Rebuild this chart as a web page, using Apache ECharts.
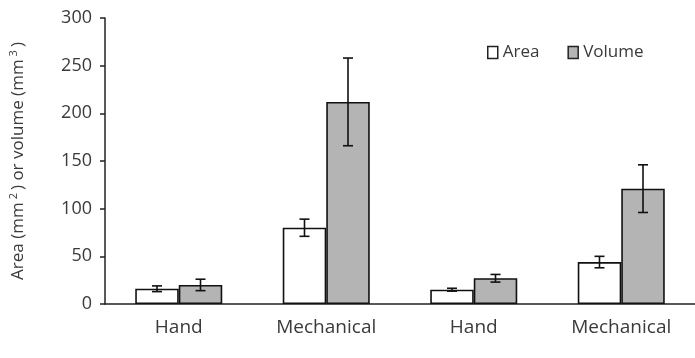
<!DOCTYPE html>
<html><head><meta charset="utf-8">
<script src="https://cdn.jsdelivr.net/npm/echarts@6/dist/echarts.min.js"></script>
<style>html,body{margin:0;padding:0;background:#fff}#c{width:695px;height:358px}</style>
</head><body><div id="c"></div>
<script>
const categories = ['Hand', 'Mechanical', 'Hand', 'Mechanical'];
const areaValues = [16, 80, 15, 44];
const areaErrors = [3, 9, 1.5, 6];
const volumeValues = [20, 212, 27, 121];
const volumeErrors = [6, 46, 4, 25];
const yTicks = [0, 50, 100, 150, 200, 250, 300];

const FONT = '"Open Sans", "Liberation Sans", sans-serif';
const GAP = 0.41;
const TXT = '#3a3a3a';

function errData(vals, errs) {
  return vals.map((v, i) => [i, v - errs[i], v + errs[i]]);
}
function errRender(sign) {
  return function (params, api) {
    const i = api.value(0);
    const lo = api.coord([i, api.value(1)]);
    const hi = api.coord([i, api.value(2)]);
    const band = api.size([1, 0])[0];
    const bw = band * (1 - GAP) / 2;
    const x = lo[0] + sign * bw / 2;
    const cap = 5;
    const st = { stroke: '#111', lineWidth: 1.6 };
    return {
      type: 'group',
      children: [
        { type: 'line', shape: { x1: x, y1: lo[1], x2: x, y2: hi[1] }, style: st },
        { type: 'line', shape: { x1: x - cap, y1: lo[1], x2: x + cap, y2: lo[1] }, style: st },
        { type: 'line', shape: { x1: x - cap, y1: hi[1], x2: x + cap, y2: hi[1] }, style: st }
      ]
    };
  };
}

const chart = echarts.init(document.getElementById('c'));
chart.setOption({
  animation: false,
  backgroundColor: '#fff',
  textStyle: { fontFamily: FONT },
  legend: {
    left: 482, top: 39,
    itemWidth: 10, itemHeight: 12, itemGap: 28,
    textStyle: { fontSize: 17, color: TXT, fontFamily: FONT },
    data: [
      { name: 'Area', icon: 'rect', itemStyle: { color: '#fff', borderColor: '#222', borderWidth: 1.5 } },
      { name: 'Volume', icon: 'rect', itemStyle: { color: '#b4b4b4', borderColor: '#222', borderWidth: 1.5 } }
    ]
  },
  grid: { left: 105, top: 18, bottom: 54, width: 590 },
  xAxis: {
    type: 'category',
    data: categories,
    axisLine: { lineStyle: { color: '#222', width: 1.5 } },
    axisTick: { show: false },
    axisLabel: { fontSize: 19, color: TXT, margin: 14, fontFamily: FONT }
  },
  yAxis: {
    type: 'value', min: 0, max: 300, interval: 50,
    name: '{n|Area (mm}{s|2}{n|) or volume (mm}{s|3}{n|)}',
    nameLocation: 'middle', nameGap: 77, nameRotate: 90,
    nameTextStyle: {
      rich: {
        n: { fontSize: 17, color: TXT, fontFamily: FONT },
        s: { fontSize: 11, color: TXT, verticalAlign: 'top', padding: [0, 3, 9, 3], fontFamily: FONT }
      }
    },
    splitLine: { show: false },
    axisLine: { show: true, lineStyle: { color: '#222', width: 1.5 } },
    axisTick: { show: true, length: 5, lineStyle: { color: '#222', width: 1.5 } },
    axisLabel: { fontSize: 18, color: TXT, margin: 13, fontFamily: FONT,
      formatter: v => yTicks.includes(v) ? String(v) : '' }
  },
  series: [
    { name: 'Area', type: 'bar', data: areaValues, barGap: '0%', barCategoryGap: (GAP * 100) + '%',
      itemStyle: { color: '#fff', borderColor: '#111', borderWidth: 1.6 } },
    { name: 'Volume', type: 'bar', data: volumeValues,
      itemStyle: { color: '#b4b4b4', borderColor: '#111', borderWidth: 1.6 } },
    { type: 'custom', data: errData(areaValues, areaErrors), renderItem: errRender(-1), z: 10,
      encode: { x: 0, y: [1, 2] } },
    { type: 'custom', data: errData(volumeValues, volumeErrors), renderItem: errRender(1), z: 10,
      encode: { x: 0, y: [1, 2] } }
  ]
});
</script></body></html>
